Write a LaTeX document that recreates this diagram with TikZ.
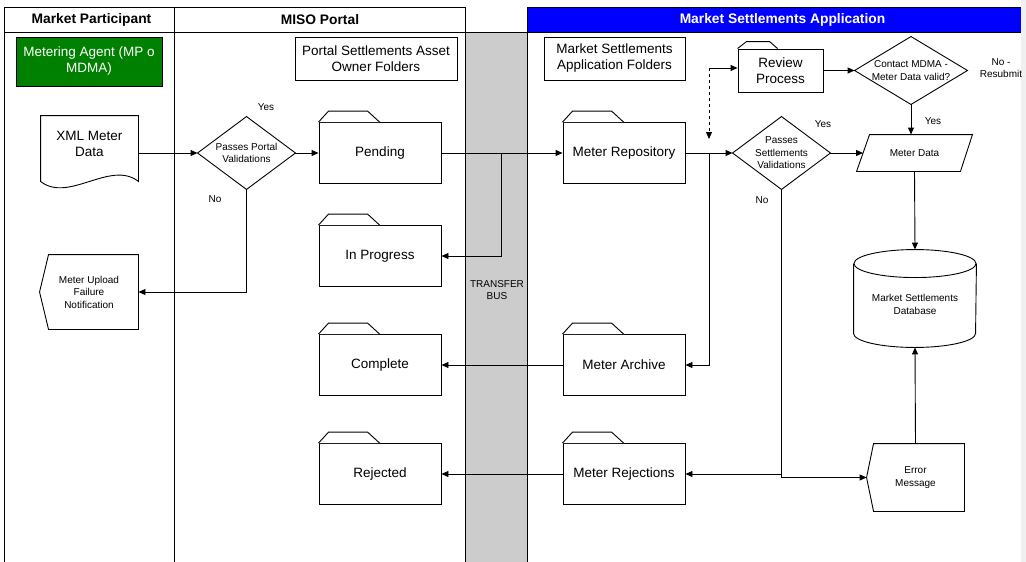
\documentclass[tikz,border=0pt]{standalone}
\usepackage{fontspec}
\setmainfont{Liberation Sans}
\usetikzlibrary{arrows.meta,calc}

\definecolor{busgrey}{RGB}{204,204,204}
\definecolor{agentgreen}{RGB}{0,128,0}
\definecolor{msablue}{RGB}{0,0,255}
\definecolor{edgegrey}{RGB}{240,240,240}

\begin{document}
\begin{tikzpicture}[x=1pt,y=-1pt,line width=0.9pt,
  big/.style={font=\fontsize{13.5}{16}\selectfont},
  small/.style={font=\fontsize{10}{12.5}\selectfont},
  head/.style={font=\bfseries\fontsize{13.8}{15}\selectfont},
  folder/.style={draw,fill=white,big,align=center,inner sep=0pt,minimum width=122pt,minimum height=61pt},
  plainbox/.style={draw,big,align=center,inner sep=0pt},
  shapetext/.style={small,align=center,inner sep=0pt},
  arr/.style={-{Triangle[length=7pt,width=6pt]}}]

  \useasboundingbox (0,0) rectangle (1026,562);

  \fill[busgrey] (465,32) rectangle (527,562);
  \fill[msablue] (527,7) rectangle (1021,32);
  \fill[edgegrey] (1021,0) rectangle (1026,562);
  \draw (4,562) -- (4,7) -- (465,7);
  \draw (527,7) -- (1021,7);
  \draw (4,32) -- (1021,32);
  \draw (174,7) -- (174,562);
  \draw (465,7) -- (465,562);
  \draw (527,7) -- (527,562);

  \node[head] (mphead) at (91.5,19.5) {Market Participant};
  \node[head] (misohead) at (320,19.5) {MISO Portal};
  \node[head,text=white] (msahead) at (782.5,19.5) {Market Settlements Application};

  \node[draw,fill=agentgreen,text=white,big,align=center,inner sep=0pt,
        minimum width=146pt,minimum height=49pt] (agent) at (89,61.5) {Metering Agent (MP o\\MDMA)};
  \node[plainbox,minimum width=162pt,minimum height=43pt] (portalfolders) at (376,58.5) {Portal Settlements Asset\\Owner Folders};
  \node[plainbox,minimum width=141pt,minimum height=43pt] (msafolders) at (614.5,58.5) {Market Settlements\\Application Folders};

  \node[big,align=center,inner sep=0pt,minimum width=97pt,minimum height=56pt] (xmldata) at (89.5,144) {XML Meter\\Data};
  \draw (xmldata.north west) -- (xmldata.north east) -- ($(xmldata.south east)+(0,9)$)
    .. controls +(-28,-22) and +(28,22) .. ($(xmldata.south west)+(0,9)$) -- cycle;

  \node[shapetext,minimum width=97pt,minimum height=72pt] (portalval) at (246.5,153) {Passes Portal\\Validations};
  \draw (portalval.north) -- (portalval.east) -- (portalval.south) -- (portalval.west) -- cycle;

  \node[shapetext,minimum width=98pt,minimum height=74pt] (uploadfail) at (89,292) {Meter Upload\\Failure\\Notification};
  \draw (uploadfail.north east) -- ($(uploadfail.north west)+(9,0)$) -- (uploadfail.west)
    -- ($(uploadfail.south west)+(9,0)$) -- (uploadfail.south east) -- cycle;

  \node[folder] (pending) at (380,153) {Pending};
  \node[folder] (inprogress) at (380,256) {In Progress};
  \node[folder] (complete) at (380,365) {Complete};
  \node[folder] (rejected) at (380,474) {Rejected};
  \node[folder] (meterrepo) at (624,153) {Meter Repository};
  \node[folder] (meterarchive) at (624,365) {Meter Archive};
  \node[folder] (meterrejections) at (624,474) {Meter Rejections};
  \foreach \f in {pending,inprogress,complete,rejected,meterrepo,meterarchive,meterrejections}
    \draw[fill=white] (\f.north west) -- ++(10,-11) -- ++(39,0) -- ++(12,11);

  \node[folder,minimum width=85pt,minimum height=43pt] (review) at (780.5,70.5) {Review\\Process};
  \draw[fill=white] (review.north west) -- ++(9,-7) -- ++(23,0) -- ++(8,7);

  \node[shapetext,minimum width=112pt,minimum height=67pt] (contact) at (911,70.5) {Contact MDMA -\\Meter Data valid?};
  \draw (contact.north) -- (contact.east) -- (contact.south) -- (contact.west) -- cycle;

  \node[shapetext,minimum width=97pt,minimum height=72pt] (settval) at (781.5,153) {Passes\\Settlements\\Validations};
  \draw (settval.north) -- (settval.east) -- (settval.south) -- (settval.west) -- cycle;

  \node[shapetext,minimum width=115pt,minimum height=36pt] (meterdata) at (914.5,153) {Meter Data};
  \draw ($(meterdata.north west)+(13,0)$) -- (meterdata.north east) -- ($(meterdata.south east)+(-12,0)$)
    -- (meterdata.south west) -- cycle;

  \node[shapetext,minimum width=122pt,minimum height=85pt] (msdb) at (915,304.5) {Market Settlements\\Database};
  \draw ($(msdb.north west)+(0,2)$) -- ($(msdb.south west)+(0,-14)$)
    arc[start angle=180,end angle=0,x radius=61,y radius=14] -- ($(msdb.north east)+(0,2)$);
  \draw ($(msdb.north)+(0,2)$) ellipse[x radius=61,y radius=14];

  \node[shapetext,minimum width=97pt,minimum height=67pt] (errmsg) at (915.5,477.5) {Error\\Message};
  \draw (errmsg.north east) -- ($(errmsg.north west)+(7,0)$) -- (errmsg.west)
    -- ($(errmsg.south west)+(7,0)$) -- (errmsg.south east) -- cycle;

  \node[shapetext] (buslabel) at (497,290) {TRANSFER\\BUS};
  \node[small] (portalyes) at (266,107) {Yes};
  \node[small] (portalno) at (215,199) {No};
  \node[small] (settyes) at (823,124) {Yes};
  \node[small] (settno) at (762,200) {No};
  \node[small] (contactyes) at (933,121) {Yes};
  \node[shapetext] (contactno) at (1001,68) {No -\\Resubmit};

  \coordinate (busjoin) at (501,153);
  \coordinate (repojoin) at (709,153);
  \coordinate (dashtop) at (709,68);
  \coordinate (dashend) at (709,139);

  \draw[arr] (xmldata.east |- portalval) -- (portalval.west);
  \draw[arr] (portalval.east) -- (pending.west);
  \draw[arr] (portalval.south) |- (uploadfail.east);
  \draw[arr] (pending.east) -- (meterrepo.west);
  \draw[arr] (busjoin) |- (inprogress.east);
  \draw[arr] (meterrepo.east) -- (settval.west);
  \draw[arr] (repojoin) |- (meterarchive.east);
  \draw[arr] (meterarchive.west) -- (complete.east);
  \draw[arr] (meterrejections.west) -- (rejected.east);
  \draw[arr] (settval.east) -- ($(meterdata.west)+(6.5,0)$);
  \draw[arr] (settval.south) |- (errmsg.west);
  \draw[arr] (settval.south |- meterrejections.east) -- (meterrejections.east);
  \draw[arr] (meterdata.south) -- ($(msdb.north)+(0,-12)$);
  \draw[arr] (errmsg.north) -- (msdb.south);
  \draw[arr] (review.east) -- (contact.west);
  \draw[arr] (contact.south) -- (contact.south |- meterdata.north);
  \draw[arr,dashed] (dashtop) -- (dashend);
  \draw[arr] (dashtop) -- (review.west |- dashtop);
\end{tikzpicture}
\end{document}
